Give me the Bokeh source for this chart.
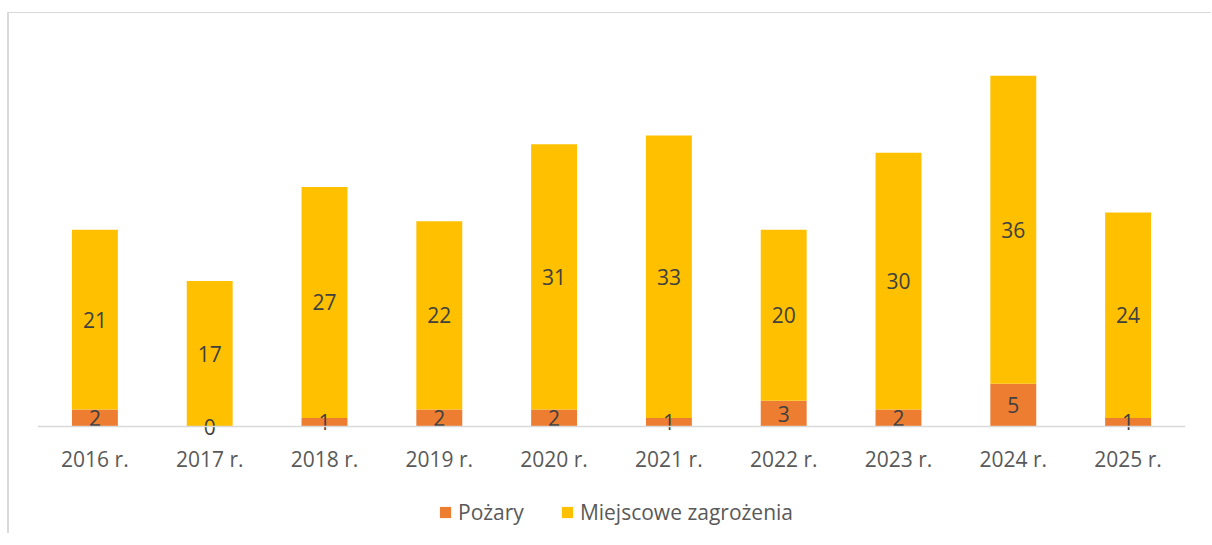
from bokeh.plotting import figure
from bokeh.models import ColumnDataSource, FactorRange, Range1d, Legend, LegendItem, Span
from bokeh.layouts import column
from bokeh.core.properties import value
from bokeh.embed import file_html
from bokeh.resources import INLINE

years = ["2016 r.", "2017 r.", "2018 r.", "2019 r.", "2020 r.", "2021 r.", "2022 r.", "2023 r.", "2024 r.", "2025 r."]
pozary = [2, 0, 1, 2, 2, 1, 3, 2, 5, 1]
miejscowe = [21, 17, 27, 22, 31, 33, 20, 30, 36, 24]
series_names = ["Pożary", "Miejscowe zagrożenia"]
colors = ["#ED7D31", "#FFC000"]

FONT = "Open Sans"

src = ColumnDataSource(dict(
    x=years,
    poz=pozary,
    mie=miejscowe,
    poz_y=[v / 2 for v in pozary],
    mie_y=[p + m / 2 for p, m in zip(pozary, miejscowe)],
    poz_t=[str(v) for v in pozary],
    mie_t=[str(v) for v in miejscowe],
))

p = figure(
    x_range=FactorRange(*years, range_padding=0),
    y_range=Range1d(-1.4, 45),
    width=1202, height=466,
    output_backend="svg", toolbar_location=None,
    min_border_left=28, min_border_right=26, min_border_top=28, min_border_bottom=41,
)
p.outline_line_color = None
p.xgrid.visible = False
p.ygrid.visible = False
p.yaxis.visible = False

rs = p.vbar_stack(["poz", "mie"], x="x", width=0.4, color=colors, line_color=None, source=src)

p.add_layout(Span(location=0, dimension="width", line_color="#D9D9D9", line_width=1.5))

p.text(x="x", y="poz_y", text="poz_t", source=src, text_align="center", text_baseline="middle",
       text_font=value(FONT), text_font_size="21px", text_color="#404040")
p.text(x="x", y="mie_y", text="mie_t", source=src, text_align="center", text_baseline="middle",
       text_font=value(FONT), text_font_size="21px", text_color="#404040")

ax = p.xaxis[0]
ax.axis_line_color = None
ax.major_tick_line_color = None
ax.minor_tick_line_color = None
ax.major_label_text_font = FONT
ax.major_label_text_font_size = "21px"
ax.major_label_text_color = "#595959"
ax.major_label_standoff = 0

# legend panel (same series, drawn out of view so only the legend shows)
lf = figure(
    width=1202, height=54,
    x_range=FactorRange(*years, range_padding=0), y_range=Range1d(1000, 1001),
    x_axis_type=None, y_axis_type=None,
    output_backend="svg", toolbar_location=None,
    min_border=0,
)
lf.outline_line_color = None
lf.xgrid.visible = False
lf.ygrid.visible = False
lr = lf.vbar_stack(["poz", "mie"], x="x", width=0.4, color=colors, line_color=None, source=src)

legend = Legend(
    items=[LegendItem(label=series_names[i], renderers=[lr[i]]) for i in range(2)],
    orientation="horizontal", location=(401, 7),
    border_line_alpha=0, background_fill_alpha=0,
    label_text_font=FONT, label_text_font_size="21px", label_text_color="#595959",
    glyph_width=14, glyph_height=14, spacing=36, label_standoff=6,
    padding=0, margin=0,
)
lf.add_layout(legend, "center")

layout = column(p, lf, spacing=0,
                styles={"margin-left": "7px", "margin-top": "12px",
                        "border-left": "2px solid #D9D9D9", "border-top": "1px solid #D9D9D9"})

open("out.html", "w").write(file_html(layout, INLINE))
